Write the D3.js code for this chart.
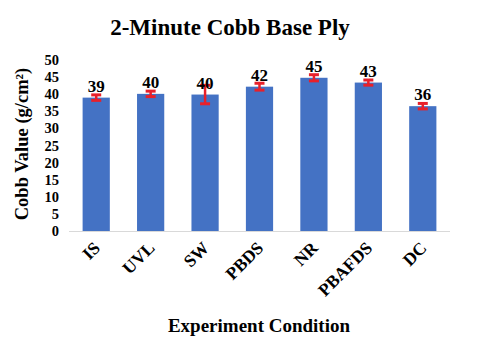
<!DOCTYPE html>
<html><head><meta charset="utf-8">
<script src="https://cdn.jsdelivr.net/npm/d3@7"></script>
<style>body{margin:0;background:#fff}svg{display:block}</style>
</head><body><svg id="c" width="481" height="344"></svg>
<script>
const categories = ["IS","UVL","SW","PBDS","NR","PBAFDS","DC"];
const values = [39.0, 40.1, 39.9, 42.2, 44.8, 43.4, 36.5];
const errors = [0.8, 0.8, 2.7, 1.0, 0.9, 0.75, 0.8];
const labels = ["39","40","40","42","45","43","36"];
const yTicks = [0,5,10,15,20,25,30,35,40,45,50];

const FONT = "'Liberation Serif', 'Times New Roman', serif";
const svg = d3.select("#c").attr("font-family", FONT).attr("font-weight","bold");
const x = d3.scaleBand().domain(categories).range([69,450]).paddingInner(0.5).paddingOuter(0.25);
const y = d3.scaleLinear().domain([0,50]).range([231,60]);

svg.append("text").attr("x",230).attr("y",35).attr("text-anchor","middle").attr("font-size",23).text("2-Minute Cobb Base Ply");

svg.append("g").selectAll("text").data(yTicks).join("text")
  .attr("x",59).attr("y",d=>y(d)).attr("dy","0.35em").attr("text-anchor","end")
  .attr("font-size",14.5).text(d=>d);

svg.append("line").attr("x1",69).attr("x2",450).attr("y1",231.5).attr("y2",231.5).attr("stroke","#d9d9d9").attr("stroke-width",1);

svg.append("g").selectAll("rect").data(categories).join("rect")
  .attr("x",d=>x(d)).attr("width",x.bandwidth())
  .attr("y",(d,i)=>y(values[i])).attr("height",(d,i)=>y(0)-y(values[i]))
  .attr("fill","#4472c4");

const eg = svg.append("g").attr("stroke","#e8202a");
categories.forEach((c,i)=>{
  const cx = x(c)+x.bandwidth()/2;
  const t = y(values[i]+errors[i]), b = y(values[i]-errors[i]);
  eg.append("line").attr("x1",cx).attr("x2",cx).attr("y1",t).attr("y2",b).attr("stroke-width",2.5);
  eg.append("line").attr("x1",cx-5).attr("x2",cx+5).attr("y1",t).attr("y2",t).attr("stroke-width",3);
  eg.append("line").attr("x1",cx-5).attr("x2",cx+5).attr("y1",b).attr("y2",b).attr("stroke-width",3);
});

svg.append("g").selectAll("text").data(categories).join("text")
  .attr("x",d=>x(d)+x.bandwidth()/2).attr("y",(d,i)=>y(values[i])-6)
  .attr("text-anchor","middle").attr("font-size",17).text((d,i)=>labels[i]);

svg.append("g").selectAll("text").data(categories).join("text")
  .attr("text-anchor","end")
  .attr("transform",d=>`translate(${x(d)+x.bandwidth()/2+5},${249}) rotate(-45)`)
  .attr("font-size",17.5).text(d=>d);

svg.append("text").attr("x",259).attr("y",332).attr("text-anchor","middle").attr("font-size",19).text("Experiment Condition");

svg.append("text").attr("transform","translate(28,144) rotate(-90)").attr("text-anchor","middle").attr("font-size",18.5)
  .text("Cobb Value (g/cm²)");
</script></body></html>
